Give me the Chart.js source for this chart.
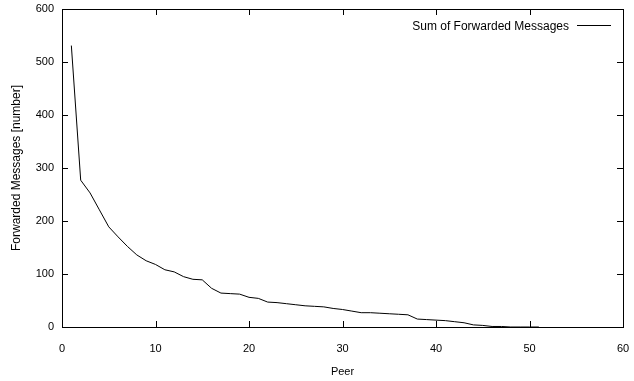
<!DOCTYPE html>
<html>
<head>
<meta charset="utf-8">
<script src="https://cdn.jsdelivr.net/npm/chart.js@4"></script>
<style>
  html, body { margin: 0; padding: 0; background: #fff; }
  #wrap { width: 634px; height: 381px; }
</style>
</head>
<body>
<div id="wrap"><canvas id="chart" width="634" height="381"></canvas></div>
<script>
// peer index and forwarded message sums
var peers = [];
for (var i = 1; i <= 51; i++) peers.push(i);
var forwarded = [531, 277, 253, 221, 189, 170, 152, 136, 125, 118,
                 108, 104, 95, 90, 89, 73, 64, 63, 62, 56,
                 54, 47, 46, 44, 42, 40, 39, 38, 35, 33,
                 30, 27, 27, 26, 25, 24, 23, 15, 14, 13,
                 12, 10, 8, 4, 3, 1, 1, 0, 0, 0, 0];
var seriesName = 'Sum of Forwarded Messages';
var xTicks = [0, 10, 20, 30, 40, 50, 60];
var yTicks = [0, 100, 200, 300, 400, 500, 600];

var FONT = '"Liberation Sans", Arial, Helvetica, sans-serif';

// drop the label overhang so layout.padding alone places the plot box
function noOverhang(s) {
    s.paddingLeft = 0; s.paddingRight = 0; s.paddingTop = 0; s.paddingBottom = 0;
}

// gnuplot style frame: full box, inward ticks on all four sides, key at top right
var framePlugin = {
    id: 'frame',
    afterDraw: function (chart) {
        var ctx = chart.ctx, a = chart.chartArea;
        var xs = chart.scales.x, ys = chart.scales.y;
        var len = 6;
        ctx.save();
        ctx.strokeStyle = '#000';
        ctx.lineWidth = 1;
        ctx.strokeRect(Math.round(a.left) + 0.5, Math.round(a.top) + 0.5,
            Math.round(a.right - a.left), Math.round(a.bottom - a.top));
        ctx.beginPath();
        xTicks.forEach(function (v) {
            var px = Math.round(xs.getPixelForValue(v)) + 0.5;
            ctx.moveTo(px, a.bottom); ctx.lineTo(px, a.bottom - len);
            ctx.moveTo(px, a.top); ctx.lineTo(px, a.top + len);
        });
        yTicks.forEach(function (v) {
            var py = Math.round(ys.getPixelForValue(v)) + 0.5;
            ctx.moveTo(a.left, py); ctx.lineTo(a.left + len, py);
            ctx.moveTo(a.right, py); ctx.lineTo(a.right - len, py);
        });
        ctx.stroke();

        // key
        ctx.font = '12px ' + FONT;
        ctx.fillStyle = '#000';
        ctx.textAlign = 'right';
        ctx.textBaseline = 'middle';
        ctx.fillText(seriesName, a.right - 54, a.top + 18);
        ctx.beginPath();
        ctx.moveTo(a.right - 46, a.top + 16.5);
        ctx.lineTo(a.right - 12, a.top + 16.5);
        ctx.stroke();
        ctx.restore();
    }
};

new Chart(document.getElementById('chart').getContext('2d'), {
    type: 'line',
    data: {
        labels: peers,
        datasets: [{
            label: seriesName,
            data: peers.map(function (p, i) { return { x: p, y: forwarded[i] }; }),
            borderColor: '#000',
            borderWidth: 1,
            pointRadius: 0,
            tension: 0,
            fill: false
        }]
    },
    options: {
        responsive: false,
        animation: false,
        layout: { padding: { top: 9, right: 11, left: 0, bottom: 0 } },
        plugins: {
            legend: { display: false },
            tooltip: { enabled: false }
        },
        scales: {
            x: {
                type: 'linear',
                min: 0, max: 60,
                afterFit: function (s) { s.height = 54; noOverhang(s); },
                afterBuildTicks: function (s) { s.ticks = xTicks.map(function (v) { return { value: v }; }); },
                grid: { display: false, drawTicks: false },
                border: { display: false },
                ticks: { color: '#000', padding: 15, maxRotation: 0, font: { family: FONT, size: 11 } },
                title: { display: true, text: 'Peer', color: '#000', padding: { top: 4, bottom: 2 }, font: { family: FONT, size: 11 } }
            },
            y: {
                min: 0, max: 600,
                afterFit: function (s) { s.width = 62; noOverhang(s); },
                afterBuildTicks: function (s) { s.ticks = yTicks.map(function (v) { return { value: v }; }); },
                grid: { display: false, drawTicks: false },
                border: { display: false },
                ticks: { color: '#000', padding: 8, font: { family: FONT, size: 11 } },
                title: { display: true, text: 'Forwarded Messages [number]', color: '#000', padding: { top: 9, bottom: 4 }, font: { family: FONT, size: 12 } }
            }
        }
    },
    plugins: [framePlugin]
});
</script>
</body>
</html>
